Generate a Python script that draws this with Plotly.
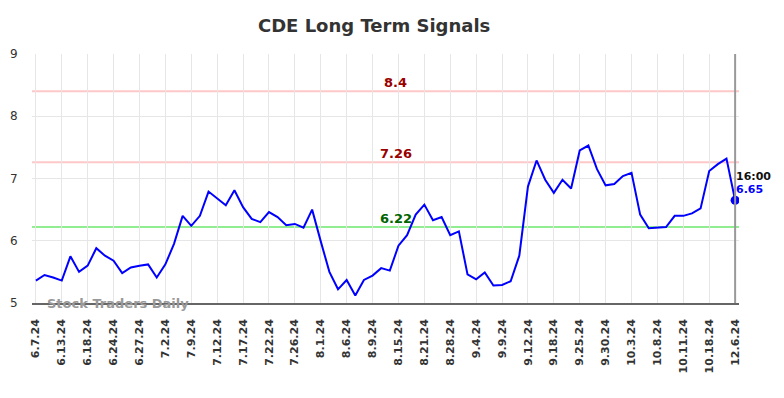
import plotly.graph_objects as go

title = "CDE Long Term Signals"
tick_labels = ["6.7.24", "6.13.24", "6.18.24", "6.24.24", "6.27.24", "7.2.24", "7.9.24",
               "7.12.24", "7.17.24", "7.22.24", "7.26.24", "8.1.24", "8.6.24", "8.9.24",
               "8.15.24", "8.21.24", "8.28.24", "9.4.24", "9.9.24", "9.12.24", "9.18.24",
               "9.25.24", "9.30.24", "10.3.24", "10.8.24", "10.11.24", "10.18.24", "12.6.24"]
prices = [5.36, 5.45, 5.41, 5.36, 5.75, 5.50, 5.60, 5.88, 5.76, 5.68,
          5.48, 5.57, 5.60, 5.62, 5.41, 5.62, 5.95, 6.40, 6.24, 6.40,
          6.79, 6.68, 6.57, 6.81, 6.54, 6.35, 6.30, 6.46, 6.38, 6.25,
          6.27, 6.21, 6.50, 5.99, 5.50, 5.22, 5.37, 5.12, 5.37, 5.44,
          5.56, 5.52, 5.92, 6.09, 6.42, 6.58, 6.33, 6.38, 6.09, 6.15,
          5.46, 5.38, 5.49, 5.28, 5.29, 5.35, 5.76, 6.87, 7.29, 6.98,
          6.77, 6.98, 6.84, 7.45, 7.53, 7.15, 6.89, 6.91, 7.04, 7.09,
          6.42, 6.20, 6.21, 6.22, 6.40, 6.40, 6.44, 6.52, 7.12, 7.23,
          7.32, 6.65]
signal_levels = [8.4, 7.26, 6.22]
signal_line_colors = ["#ffc8c8", "#ffc8c8", "#90ee90"]
signal_text_colors = ["#990000", "#990000", "#006400"]
last_time = "16:00"
tick_step = 3

x = list(range(len(prices)))
tickvals = [i * tick_step for i in range(len(tick_labels))]
tickvals[-1] = len(prices) - 1

fig = go.Figure()

for lvl, lc in zip(signal_levels, signal_line_colors):
    fig.add_hline(y=lvl, line=dict(color=lc, width=2), layer="below")

fig.add_trace(go.Scatter(x=x, y=prices, mode="lines",
                         line=dict(color="#0000ff", width=2), hoverinfo="skip"))
fig.add_trace(go.Scatter(x=[x[-1]], y=[prices[-1]], mode="markers",
                         marker=dict(color="#0000ff", size=9), hoverinfo="skip"))

mid = (len(prices) - 1) / 2 + 1.2
for lvl, tc in zip(signal_levels, signal_text_colors):
    fig.add_annotation(x=mid, y=lvl, text=f"<b>{lvl:g}</b>", showarrow=False,
                       yanchor="bottom", yshift=-1, font=dict(color=tc, size=13, family="DejaVu Sans"))

fig.add_vline(x=x[-1], line=dict(color="#999999", width=2))

fig.add_annotation(x=x[-1], y=prices[-1], text=f"<b>{last_time}</b>", showarrow=False,
                   xanchor="left", yanchor="middle", xshift=-1, yshift=24,
                   font=dict(color="#111111", size=11, family="DejaVu Sans"))
fig.add_annotation(x=x[-1], y=prices[-1], text=f"<b>{prices[-1]:.2f}</b>", showarrow=False,
                   xanchor="left", yanchor="middle", xshift=-1, yshift=11,
                   font=dict(color="#0000ff", size=11, family="DejaVu Sans"))

fig.add_annotation(x=1.0, y=5, text="<b>Stock Traders Daily</b>", showarrow=False,
                   xanchor="left", yanchor="middle",
                   font=dict(color="#999999", size=13, family="DejaVu Sans"))

fig.update_layout(
    width=784, height=398,
    margin=dict(l=24, r=53, t=46, b=103, autoexpand=False),
    paper_bgcolor="white", plot_bgcolor="white",
    showlegend=False,
    font=dict(family="DejaVu Sans", color="#333333"),
    title=dict(text=f"<b>{title}</b>", x=0.467, xanchor="center", y=0.955, yanchor="middle",
               font=dict(size=18, color="#333333", family="DejaVu Sans")),
)
fig.update_xaxes(range=[-0.45, len(prices) - 1 + 0.45], tickmode="array",
                 tickvals=tickvals, ticktext=[f"<b>{t}</b>" for t in tick_labels],
                 tickangle=-90, tickfont=dict(size=11, color="#333333"),
                 showgrid=True, gridcolor="#e6e6e6", gridwidth=1,
                 ticks="outside", ticklen=10, tickcolor="rgba(0,0,0,0)",
                 showline=True, linecolor="#666666", linewidth=1.5, zeroline=False,
                 automargin=False)
fig.update_yaxes(range=[5, 9], tickvals=[5, 6, 7, 8, 9],
                 tickfont=dict(size=12, color="#333333"),
                 showgrid=True, gridcolor="#e6e6e6", gridwidth=1,
                 ticks="outside", ticklen=11, tickcolor="rgba(0,0,0,0)",
                 showline=False, zeroline=False, automargin=False)

fig.write_html("out.html")
